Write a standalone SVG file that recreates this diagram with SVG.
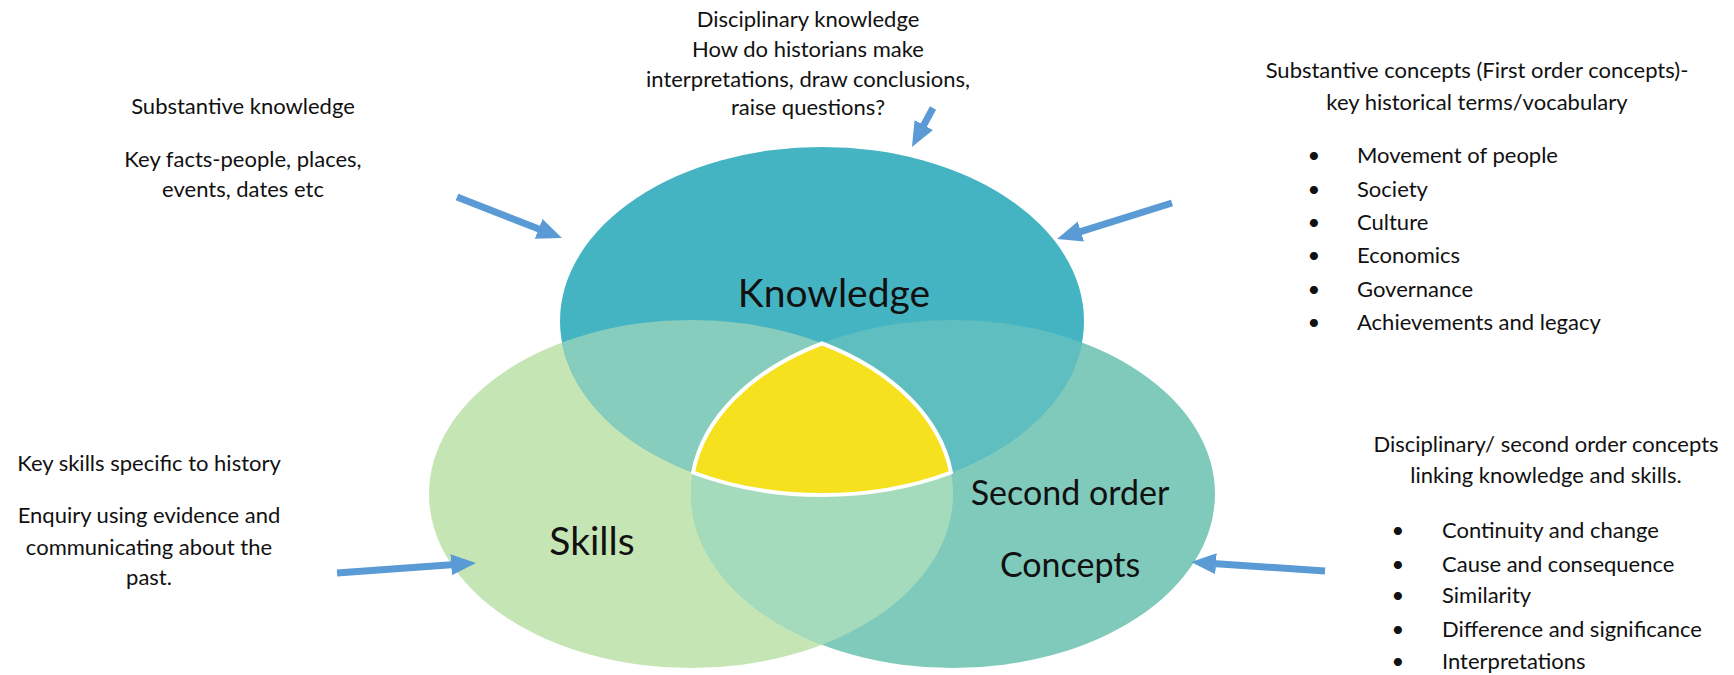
<svg xmlns="http://www.w3.org/2000/svg" width="1734" height="675" viewBox="0 0 1734 675">
  <style>
    .t { font-family: Lato, "Liberation Sans", sans-serif; font-size: 22px; fill: #111; }
    .c { text-anchor: middle; }
    .big { font-family: Lato, "Liberation Sans", sans-serif; font-size: 39px; fill: #111; text-anchor: middle; }
    .mid { font-size: 34px; }
    .arrow { stroke: #5B9BD5; stroke-width: 7; fill: none; marker-end: url(#head); }
  </style>
  <defs>
    <marker id="head" markerUnits="userSpaceOnUse" markerWidth="26" markerHeight="22" refX="7" refY="10.5" orient="auto" viewBox="0 0 26 21">
      <path d="M0,0 L25,10.5 L0,21 z" fill="#5B9BD5"/>
    </marker>
    <clipPath id="clipK"><ellipse cx="822" cy="321" rx="262" ry="174"/></clipPath>
    <clipPath id="clipS"><ellipse cx="691" cy="494" rx="262" ry="174"/></clipPath>
  </defs>
  <rect width="1734" height="675" fill="#ffffff"/>

  <g id="node-skills">
    <ellipse cx="691" cy="494" rx="262" ry="174" fill="#C5E6B4"/>
  </g>
  <g id="node-concepts">
    <ellipse cx="953" cy="494" rx="262" ry="174" fill="#7FCABB"/>
  </g>
  <g id="overlap-skills-concepts">
    <ellipse cx="953" cy="494" rx="262" ry="174" fill="#A5DBBD" clip-path="url(#clipS)"/>
  </g>
  <g id="node-knowledge">
    <ellipse cx="822" cy="321" rx="262" ry="174" fill="#45B4C2"/>
  </g>
  <g id="overlap-knowledge-skills">
    <ellipse cx="691" cy="494" rx="262" ry="174" fill="#87CDBE" clip-path="url(#clipK)"/>
  </g>
  <g id="overlap-knowledge-concepts">
    <ellipse cx="953" cy="494" rx="262" ry="174" fill="#5FBEBF" clip-path="url(#clipK)"/>
  </g>
  <g id="node-core">
    <path d="M822,343.3 A262,174 0 0 0 693,472.5 A262,174 0 0 0 951,472.5 A262,174 0 0 0 822,343.3 Z" fill="#F6E11E" stroke="#ffffff" stroke-width="4" stroke-linejoin="round"/>
  </g>

  <g id="labels">
    <text class="big" x="834" y="307">Knowledge</text>
    <text class="big" x="592" y="555">Skills</text>
    <text class="big mid" x="1070" y="505">Second order</text>
    <text class="big mid" x="1070" y="577">Concepts</text>
  </g>

  <g id="note-substantive-knowledge">
    <text class="t c" x="243" y="114">Substantive knowledge</text>
    <text class="t c" x="243" y="167">Key facts-people, places,</text>
    <text class="t c" x="243" y="197">events, dates etc</text>
  </g>

  <g id="note-disciplinary-knowledge">
    <text class="t c" x="808" y="27">Disciplinary knowledge</text>
    <text class="t c" x="808" y="57">How do historians make</text>
    <text class="t c" x="808" y="87">interpretations, draw conclusions,</text>
    <text class="t c" x="808" y="115">raise questions?</text>
  </g>

  <g id="note-substantive-concepts">
    <text class="t c" x="1477" y="78">Substantive concepts (First order concepts)-</text>
    <text class="t c" x="1477" y="110">key historical terms/vocabulary</text>
    <text class="t c" x="1314" y="163">•</text><text class="t" x="1357" y="163">Movement of people</text>
    <text class="t c" x="1314" y="197">•</text><text class="t" x="1357" y="197">Society</text>
    <text class="t c" x="1314" y="230">•</text><text class="t" x="1357" y="230">Culture</text>
    <text class="t c" x="1314" y="263">•</text><text class="t" x="1357" y="263">Economics</text>
    <text class="t c" x="1314" y="297">•</text><text class="t" x="1357" y="297">Governance</text>
    <text class="t c" x="1314" y="330">•</text><text class="t" x="1357" y="330">Achievements and legacy</text>
  </g>

  <g id="note-skills">
    <text class="t c" x="149" y="471">Key skills specific to history</text>
    <text class="t c" x="149" y="523">Enquiry using evidence and</text>
    <text class="t c" x="149" y="555">communicating about the</text>
    <text class="t c" x="149" y="585">past.</text>
  </g>

  <g id="note-second-order">
    <text class="t c" x="1546" y="452">Disciplinary/ second order concepts</text>
    <text class="t c" x="1546" y="483">linking knowledge and skills.</text>
    <text class="t c" x="1398" y="538">•</text><text class="t" x="1442" y="538">Continuity and change</text>
    <text class="t c" x="1398" y="572">•</text><text class="t" x="1442" y="572">Cause and consequence</text>
    <text class="t c" x="1398" y="603">•</text><text class="t" x="1442" y="603">Similarity</text>
    <text class="t c" x="1398" y="637">•</text><text class="t" x="1442" y="637">Difference and significance</text>
    <text class="t c" x="1398" y="669">•</text><text class="t" x="1442" y="669">Interpretations</text>
  </g>

  <g id="connectors">
    <line class="arrow" x1="457" y1="197" x2="545.2" y2="231.4"/>
    <line class="arrow" x1="933" y1="108" x2="920.5" y2="131.2"/>
    <line class="arrow" x1="1172" y1="203" x2="1074.2" y2="233.6"/>
    <line class="arrow" x1="337" y1="573" x2="458.1" y2="564.3"/>
    <line class="arrow" x1="1325" y1="571" x2="1209" y2="563.2"/>
  </g>
</svg>
